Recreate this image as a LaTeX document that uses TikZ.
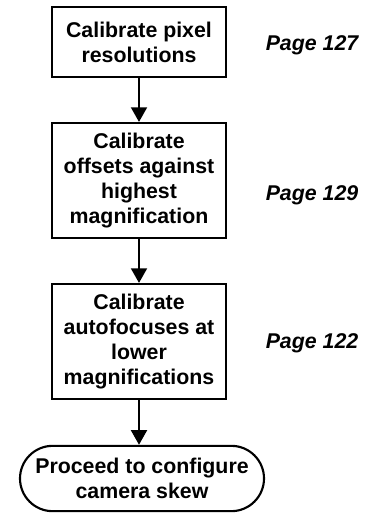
\documentclass[tikz,border=0pt]{standalone}
\usepackage{fontspec}
\setmainfont{Liberation Sans}
\usetikzlibrary{arrows.meta,shapes.misc}
\tikzset{
  stepbox/.style={rectangle, draw, line width=1.6pt, minimum width=130.5pt,
                  minimum height=#1, inner sep=0pt, align=center,
                  font=\bfseries\fontsize{16}{18.75}\selectfont},
  endbox/.style={rounded rectangle, draw, line width=1.6pt, minimum width=183pt,
                 minimum height=49pt, inner sep=0pt, align=center,
                 font=\bfseries\fontsize{16}{18.75}\selectfont},
  pagelabel/.style={font=\bfseries\itshape\fontsize{16}{18.75}\selectfont},
  flowarrow/.style={-{Triangle[width=12pt,length=11pt]}, line width=1.5pt},
}
\begin{document}
\begin{tikzpicture}[x=0.75pt,y=-0.75pt]
  \useasboundingbox (0,0) rectangle (366,513);

  % steps
  \node[stepbox=52.5pt] (pixel) at (139,42) {Calibrate pixel\\resolutions};
  \node[stepbox=86.25pt] (offsets) at (139,180.5) {Calibrate\\offsets against\\highest\\magnification};
  \node[stepbox=86.25pt] (autofocus) at (139,341.5) {Calibrate\\autofocuses at\\lower\\magnifications};
  \node[endbox] (skew) at (142,478.5) {Proceed to configure\\camera skew};

  % page references
  \node[pagelabel] (p127) at (312,45) {Page 127};
  \node[pagelabel] (p129) at (312,195) {Page 129};
  \node[pagelabel] (p122) at (312,343) {Page 122};

  % connectors
  \draw[flowarrow] (pixel) -- (offsets);
  \draw[flowarrow] (offsets) -- (autofocus);
  \draw[flowarrow] (autofocus) -- (skew.north -| autofocus.south);
\end{tikzpicture}
\end{document}
